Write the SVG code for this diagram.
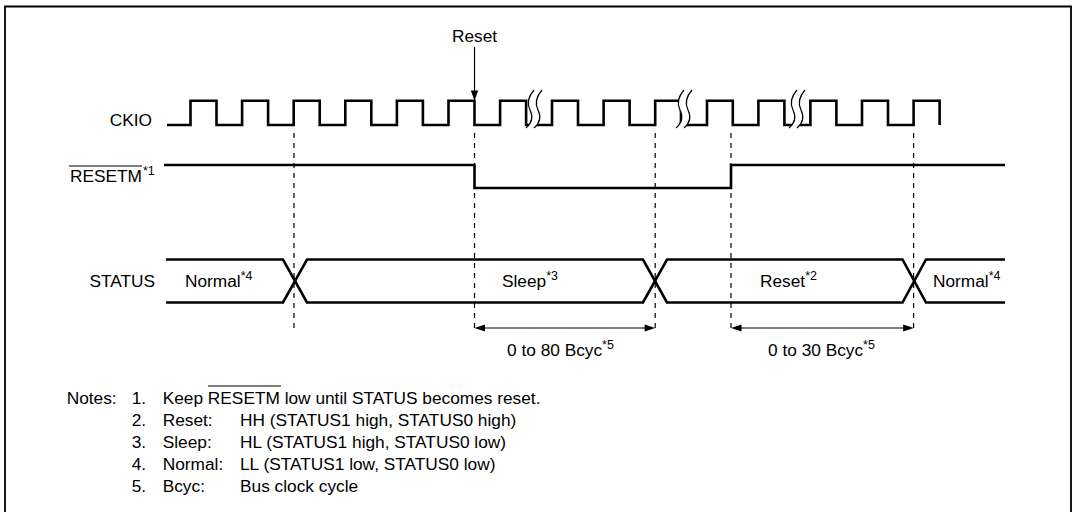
<svg xmlns="http://www.w3.org/2000/svg" width="1075" height="512" viewBox="0 0 1075 512">
<style>
text{font-family:"Liberation Sans",Arial,sans-serif;font-size:17.3px;fill:#000}
.sup{font-size:12.5px}
.wave{fill:none;stroke:#000;stroke-width:2.6;stroke-linejoin:miter}
.guide{fill:none;stroke:#000;stroke-width:1.2;stroke-dasharray:5,5}
.thin{fill:none;stroke:#000;stroke-width:1.2}
.head{fill:#000;stroke:none}
.brk{fill:#fff;stroke:none}
</style>
<rect width="1075" height="512" fill="#fff"/>
<g id="frame"><path d="M5,512 V6.5 H1071 V512" fill="none" stroke="#000" stroke-width="1.8"/></g>

<g id="guides">
<line class="guide" x1="294" y1="133" x2="294" y2="328"/>
<line class="guide" x1="474.5" y1="133" x2="474.5" y2="328"/>
<line class="guide" x1="655.2" y1="133" x2="655.2" y2="328"/>
<line class="guide" x1="731" y1="133" x2="731" y2="328"/>
<line class="guide" x1="913.6" y1="133" x2="913.6" y2="328"/>
</g>

<g id="ckio">
<text x="152" y="125.5" text-anchor="end">CKIO</text>
<path class="wave" d="M167,125 H190.5 V100.7 H216.5 V125 H242.1 V100.7 H268.1 V125 H293.7 V100.7 H319.7 V125 H345.3 V100.7 H371.3 V125 H396.9 V100.7 H422.9 V125 H448.5 V100.7 H474.5 V125 H500.1 V100.7 H526.1 V125 H552 V100.7 H578 V125 H603.6 V100.7 H629.6 V125 H655.2 V100.7 H681 V125 H707 V100.7 H732.8 V125 H758.4 V100.7 H784.4 V125 H810.4 V100.7 H836.4 V125 H862 V100.7 H888 V125 H913.6 V100.7 H939.6 V125"/>
<path class="brk" d="M534,90 C527,98 527,104 530,110 S533,122 526,128 L534,128 C541,122 538,116 538,110 S535,98 542,90 Z"/>
<path class="thin" d="M534,90 C527,98 527,104 530,110 S533,122 526,128 M542,90 C535,98 535,104 538,110 S541,122 534,128"/>
<path class="brk" d="M684,90 C677,98 677,104 680,110 S683,122 676,128 L684,128 C691,122 688,116 688,110 S685,98 692,90 Z"/>
<path class="thin" d="M684,90 C677,98 677,104 680,110 S683,122 676,128 M692,90 C685,98 685,104 688,110 S691,122 684,128"/>
<path class="brk" d="M797,90 C790,98 790,104 793,110 S796,122 789,128 L797,128 C804,122 801,116 801,110 S798,98 805,90 Z"/>
<path class="thin" d="M797,90 C790,98 790,104 793,110 S796,122 789,128 M805,90 C798,98 798,104 801,110 S804,122 797,128"/>
</g>

<g id="resetm">
<text x="142" y="182" text-anchor="end">RESETM</text>
<line class="thin" x1="69" y1="166" x2="142" y2="166"/>
<text x="143" y="175" class="sup">*1</text>
<path class="wave" d="M164,165 H474.5 V188 H731 V165 H1005"/>
</g>

<g id="status">
<text x="155" y="287" text-anchor="end">STATUS</text>
<path class="wave" d="M166,259.5 H283 L307,302.5 H643 L667,259.5 H902.5 L926,302.5 H1005"/>
<path class="wave" d="M166,302.5 H283 L307,259.5 H643 L667,302.5 H902.5 L926,259.5 H1005"/>
<text x="185" y="287">Normal<tspan class="sup" dy="-7">*4</tspan></text>
<text x="502" y="287">Sleep<tspan class="sup" dy="-7">*3</tspan></text>
<text x="760" y="287">Reset<tspan class="sup" dy="-7">*2</tspan></text>
<text x="933" y="287">Normal<tspan class="sup" dy="-7">*4</tspan></text>
</g>

<g id="connectors">
<line class="thin" x1="474.5" y1="47" x2="474.5" y2="92"/>
<polygon class="head" points="474.5,100.7 470.8,90.5 478.2,90.5"/>
<line class="thin" x1="482" y1="328" x2="648" y2="328"/>
<polygon class="head" points="474.5,328 485,324.5 485,331.5"/>
<polygon class="head" points="655.2,328 644.7,324.5 644.7,331.5"/>
<line class="thin" x1="738" y1="328" x2="906" y2="328"/>
<polygon class="head" points="731,328 741.5,324.5 741.5,331.5"/>
<polygon class="head" points="913.6,328 903.1,324.5 903.1,331.5"/>
</g>

<g id="labels">
<text x="474.5" y="42" text-anchor="middle">Reset</text>
<text x="507" y="356">0 to 80 Bcyc<tspan class="sup" dy="-7">*5</tspan></text>
<text x="768" y="356">0 to 30 Bcyc<tspan class="sup" dy="-7">*5</tspan></text>
</g>

<g id="notes">
<text x="66.7" y="404">Notes:</text>
<text x="131.7" y="404">1.</text>
<text x="162.7" y="404">Keep RESETM low until STATUS becomes reset.</text>
<line class="thin" x1="208" y1="386" x2="281" y2="386"/>
<text x="131.7" y="426">2.</text>
<text x="162.7" y="426">Reset:</text>
<text x="240" y="426">HH (STATUS1 high, STATUS0 high)</text>
<text x="131.7" y="448">3.</text>
<text x="162.7" y="448">Sleep:</text>
<text x="240" y="448">HL (STATUS1 high, STATUS0 low)</text>
<text x="131.7" y="470">4.</text>
<text x="162.7" y="470">Normal:</text>
<text x="240" y="470">LL (STATUS1 low, STATUS0 low)</text>
<text x="131.7" y="492">5.</text>
<text x="162.7" y="492">Bcyc:</text>
<text x="240" y="492">Bus clock cycle</text>
</g>
</svg>
